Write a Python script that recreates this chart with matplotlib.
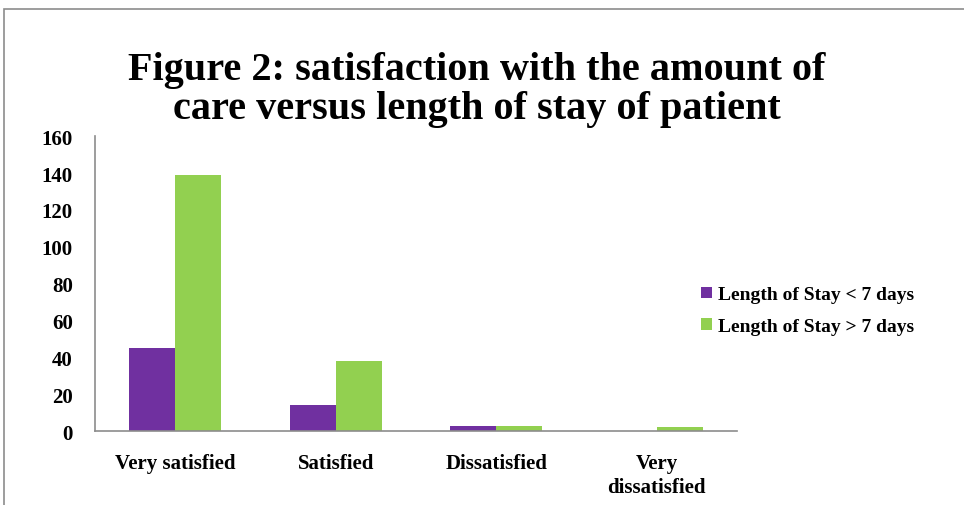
import matplotlib.pyplot as plt
import numpy as np
from matplotlib.patches import Rectangle

categories = ['Very satisfied', 'Satisfied', 'Dissatisfied', 'Very\ndissatisfied']
short_stay = [45, 14, 3, 0]
long_stay = [139, 38, 3, 2]
series_labels = ['Length of Stay < 7 days', 'Length of Stay > 7 days']
yticks = [0, 20, 40, 60, 80, 100, 120, 140, 160]

plt.rcParams['font.family'] = ['Liberation Serif', 'DejaVu Serif']
plt.rcParams['font.weight'] = 'bold'

fig = plt.figure(figsize=(9.64, 5.06), dpi=100)
ax = fig.add_axes([0.0985, 0.146, 0.666, 0.583])

# frame around the chart area
fig.patches.append(Rectangle((0.004, -0.05), 1.2, 1.03, transform=fig.transFigure,
                             fill=False, edgecolor='#8c8c8c', linewidth=1.2))

x = np.arange(len(categories))
w = 0.287
ax.bar(x - w / 2, short_stay, w, color='#7030A0', label=series_labels[0])
ax.bar(x + w / 2, long_stay, w, color='#92D050', label=series_labels[1])

ax.set_xlim(-0.5, len(categories) - 0.5)
ax.set_ylim(0, 160)
ax.set_yticks(yticks)
ax.set_xticks(x)
ax.set_xticklabels(categories, fontsize=15, fontweight='bold', linespacing=1.25)
ax.tick_params(axis='y', labelsize=15, length=0, pad=16)
ax.tick_params(axis='x', length=0, pad=16)
for lab in ax.get_yticklabels():
    lab.set_fontweight('bold')

for side in ['top', 'right']:
    ax.spines[side].set_visible(False)
for side in ['left', 'bottom']:
    ax.spines[side].set_color('#8c8c8c')
    ax.spines[side].set_linewidth(1.2)

fig.text(0.495, 0.822, 'Figure 2: satisfaction with the amount of\ncare versus length of stay of patient',
         ha='center', va='center', fontsize=29, fontweight='bold', linespacing=1.07)

fig.legend(loc='center left', bbox_to_anchor=(0.709, 0.384), frameon=False,
           prop={'size': 14, 'weight': 'bold'}, handlelength=0.55, handleheight=0.55,
           handletextpad=0.3, labelspacing=0.75)

fig.savefig('out.png', dpi=100)
